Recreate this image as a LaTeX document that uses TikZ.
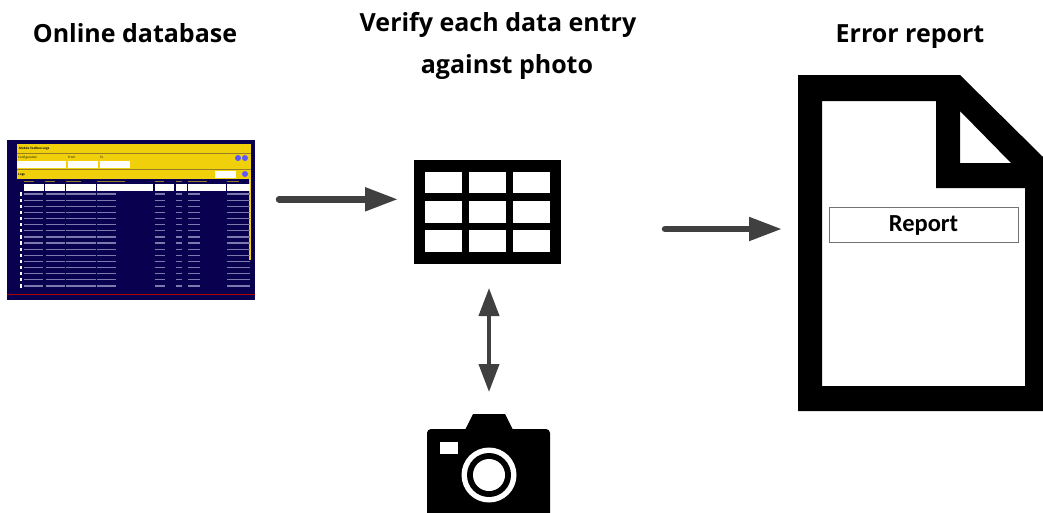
\documentclass[tikz,border=0pt]{standalone}
\usepackage{fontspec}
\setmainfont{Open Sans}
\newfontfamily\calib{Carlito}
\usetikzlibrary{arrows.meta}
\definecolor{navy}{HTML}{0A0050}
\definecolor{panelyellow}{HTML}{F0D00A}
\definecolor{arrowgrey}{HTML}{404040}
\definecolor{rowgrey}{HTML}{7A7AAC}
\tikzset{
  heading/.style={font=\fontsize{25}{30}\selectfont\bfseries,inner sep=0pt,anchor=base},
  flow/.style={draw=arrowgrey,line width=6.5pt,line cap=round,-{Triangle[length=33pt,width=22.5pt]}},
  flowboth/.style={draw=arrowgrey,line width=4pt,{Triangle[length=28pt,width=20pt]}-{Triangle[length=28pt,width=20pt]}},
  spot/.style={inner sep=0pt,outer sep=0pt,minimum width=#1},
  tiny/.style={font=\fontsize{3}{3}\selectfont,inner sep=0pt,anchor=west},
  cellbar/.style={draw=rowgrey,line width=1.2pt},
  inputbox/.style={fill=white,draw=none},
}
\begin{document}
\begin{tikzpicture}[x=1pt,y=-1pt]
\useasboundingbox (0,0) rectangle (1043,512);
% headings
\node[heading] (h1) at (135,42) {Online database};
\node[heading] (h2) at (498,31) {Verify each data entry};
\node[heading] (h3) at (507,73) {against photo};
\node[heading] (h4) at (910,42) {Error report};
% anchors for the icons
\node[spot=248pt,minimum height=160pt] (shot) at (131,220) {};
\node[spot=147pt,minimum height=104pt] (tbl) at (487.5,212) {};
\node[spot=123pt,minimum height=98pt] (cam) at (488.5,463) {};
\node[spot=245pt,minimum height=336pt] (doc) at (920.5,243) {};
\coordinate (ya) at (0,199.3);
\coordinate (yb) at (0,229);
\coordinate (xc) at (489,0);
% screenshot
\fill[navy] (7,140) rectangle (255,300);
\fill[panelyellow] (17,144) rectangle (251,179);
\fill[panelyellow] (249,179) rectangle (251,260);
\fill[navy!40!panelyellow] (17,153) rectangle (251,154);
\fill[navy!40!panelyellow] (17,168.5) rectangle (251,169.5);
\node[tiny] (t1) at (19,149) {\bfseries Mobile Toolbox Logs};
\node[tiny] (t2) at (18,157.5) {Configuration};
\node[tiny] (t3) at (68,157.5) {From};
\node[tiny] (t4) at (100,157.5) {To};
\node[tiny] (t5) at (18,174.5) {\bfseries Logs};
\fill[inputbox] (17,161) rectangle (66,168);
\fill[inputbox] (68,161) rectangle (98,168);
\fill[inputbox] (100,161) rectangle (130,168);
\fill[inputbox] (215,171) rectangle (236,178);
\fill[blue!65!white] (238,158) circle (3);
\fill[blue!65!white] (245,158) circle (3);
\fill[blue!65!white] (245,174) circle (3);
\foreach \a/\b in {24/44,45/65,66/95.5,97/153,154.5/174,176/187,188/225.5,227/250}{
  \fill[inputbox] (\a,184) rectangle (\b,191);
  \draw[line width=.8pt,draw=panelyellow!60!navy] (\a,181.5) -- ({\a+(\b-\a)*.5},181.5);
}
\foreach \r in {0,...,15}{
  \pgfmathsetmacro\yy{194+\r*6.13}
  \fill[white] (19.5,\yy-1.6) rectangle (22,\yy+1.6);
  \foreach \a/\b in {24/43,45.5/65,66/95.5,97/116,154.5/165,176/182,188/200,227/250}{
    \draw[cellbar] (\a,\yy) -- (\b,\yy);
  }
}
\fill[red!70!black] (7,293.5) rectangle (255,295);
% table icon
\fill[black] (tbl.north west) rectangle (tbl.south east);
\foreach \a/\b in {425/462,469/506,513/550}{
  \foreach \c/\d in {172/193,201/223,230/252}{
    \fill[white] (\a,\c) rectangle (\b,\d);
  }
}
% camera icon
\fill[black] (465,430) -- (473,414) -- (505,414) -- (513,430) -- cycle;
\fill[black,rounded corners=4pt] (427,429) rectangle (550,530);
\fill[white] (440,442) rectangle (458,454);
\fill[white] (489,475) circle (27.5);
\fill[black] (489,475) circle (22);
\fill[white] (489,475) circle (16);
% document icon
\fill[black,even odd rule] (798,75) -- (960,75) -- (1043,157) -- (1043,411) -- (798,411) -- cycle
  (822,101) -- (936,101) -- (936,188) -- (1025,188) -- (1025,386) -- (822,386) -- cycle
  (960,111) -- (1011,163) -- (960,163) -- cycle;
\node[draw=black!55,line width=1pt,fill=white,minimum width=189pt,minimum height=35pt,inner sep=0pt,
      font=\calib\fontsize{24.5}{29}\selectfont\bfseries] (rep) at (923.5,225) {Report};
% connectors
\draw[flow,shorten <=24pt,shorten >=16pt] (shot.east |- ya) -- (tbl.west |- ya);
\draw[flow,shorten <=104pt,shorten >=16pt] (tbl.east |- yb) -- (doc.west |- yb);
\draw[flowboth,shorten <=24pt,shorten >=22pt] (tbl.south -| xc) -- (cam.north -| xc);
\end{tikzpicture}
\end{document}
